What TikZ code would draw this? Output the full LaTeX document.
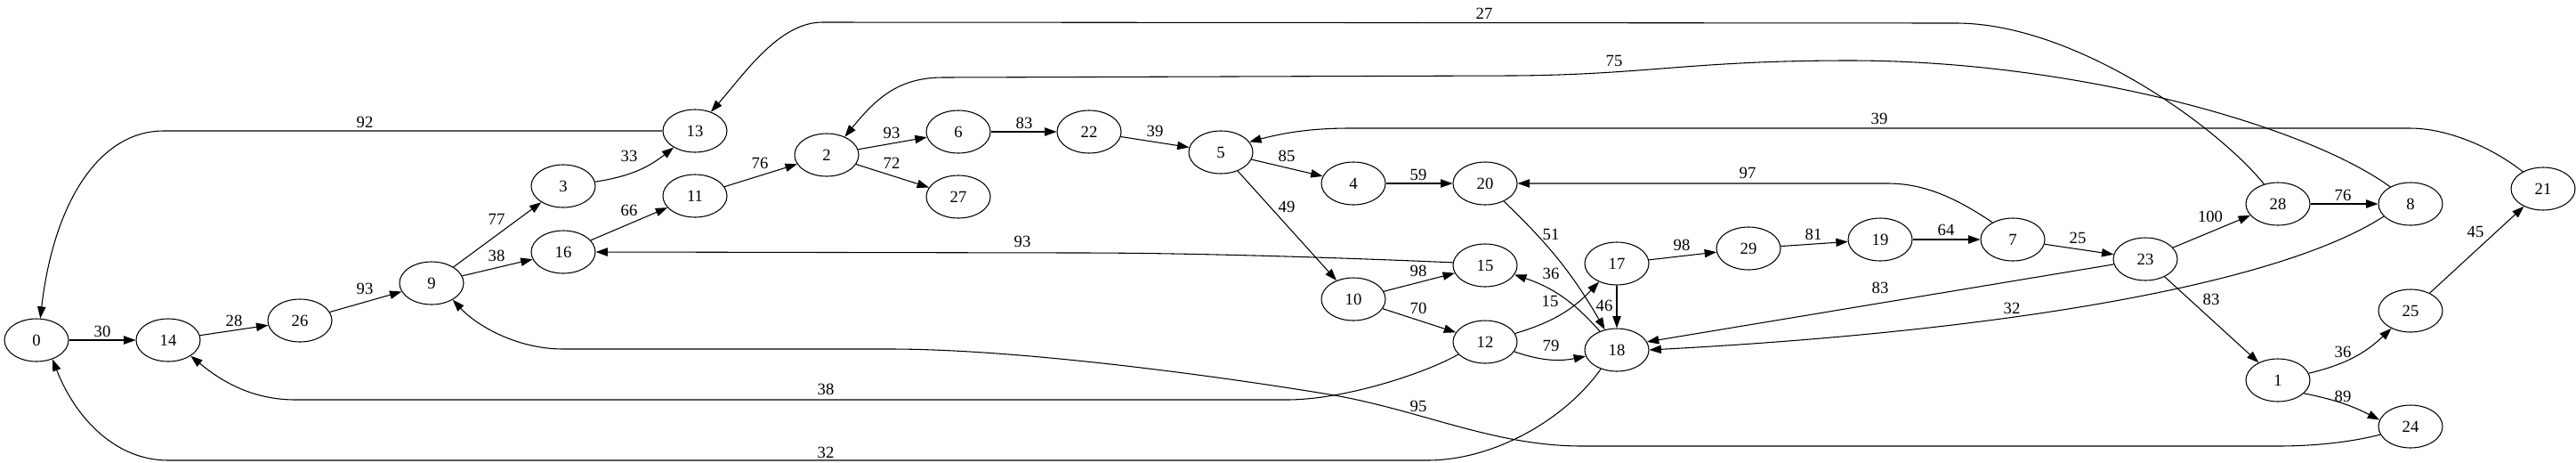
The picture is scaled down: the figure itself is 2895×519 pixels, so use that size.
\documentclass[tikz,border=0pt]{standalone}
\usepackage{fontspec}
\setmainfont{Liberation Serif}
\usetikzlibrary{arrows.meta,shapes.geometric}
\begin{document}
\begin{tikzpicture}[x=0.75pt,y=-0.75pt,
  vtx/.style={draw,ellipse,minimum width=54pt,minimum height=36pt,inner sep=0pt,line width=0.8pt,font=\fontsize{14}{16}\selectfont},
  lbl/.style={inner sep=0pt,font=\fontsize{14}{16}\selectfont},
  e/.style={line width=0.8pt,-{Triangle[length=10pt,width=7pt]}}]
\useasboundingbox (0,0) rectangle (2895,519);
% nodes
\node[vtx] (n0) at (41,382) {0};
\node[vtx] (n14) at (189,382) {14};
\node[vtx] (n26) at (337,360) {26};
\node[vtx] (n9) at (485,318) {9};
\node[vtx] (n3) at (633,209) {3};
\node[vtx] (n16) at (633,283) {16};
\node[vtx] (n13) at (781,147) {13};
\node[vtx] (n11) at (781,220) {11};
\node[vtx] (n2) at (929,174) {2};
\node[vtx] (n6) at (1077,148) {6};
\node[vtx] (n27) at (1077,221) {27};
\node[vtx] (n22) at (1224,148) {22};
\node[vtx] (n5) at (1372,171) {5};
\node[vtx] (n4) at (1521,206) {4};
\node[vtx] (n10) at (1521,336) {10};
\node[vtx] (n20) at (1669,206) {20};
\node[vtx] (n15) at (1669,298) {15};
\node[vtx] (n12) at (1669,384) {12};
\node[vtx] (n17) at (1817,296) {17};
\node[vtx] (n18) at (1817,393) {18};
\node[vtx] (n29) at (1965,279) {29};
\node[vtx] (n19) at (2113,269) {19};
\node[vtx] (n7) at (2262,269) {7};
\node[vtx] (n23) at (2411,291) {23};
\node[vtx] (n28) at (2560,229) {28};
\node[vtx] (n8) at (2709,229) {8};
\node[vtx] (n21) at (2858,212) {21};
\node[vtx] (n25) at (2709,349) {25};
\node[vtx] (n1) at (2560,427) {1};
\node[vtx] (n24) at (2709,479) {24};
% straight and bent edges
\draw[e] (n0) -- (n14);
\draw[e] (n14) -- (n26);
\draw[e] (n26) -- (n9);
\draw[e] (n9) -- (n3);
\draw[e] (n9) -- (n16);
\draw[e] (n3) to[bend right=15] (n13);
\draw[e] (n16) -- (n11);
\draw[e] (n11) -- (n2);
\draw[e] (n2) -- (n6);
\draw[e] (n2) -- (n27);
\draw[e] (n6) -- (n22);
\draw[e] (n22) -- (n5);
\draw[e] (n5) -- (n4);
\draw[e] (n5) -- (n10);
\draw[e] (n4) -- (n20);
\draw[e] (n10) -- (n15);
\draw[e] (n10) -- (n12);
\draw[e] (n12) to[bend right=15] (n17);
\draw[e] (n12) to[bend right=15] (n18);
\draw[e] (n17) -- (n18);
\draw[e] (n20) to[bend left=8] (n18);
\draw[e] (n18) to[bend right=15] (n15);
\draw[e] (n17) -- (n29);
\draw[e] (n29) -- (n19);
\draw[e] (n19) -- (n7);
\draw[e] (n7) -- (n23);
\draw[e] (n23) -- (n28);
\draw[e] (n28) -- (n8);
\draw[e] (n23) -- (n1);
\draw[e] (n23) -- (n18.15);
\draw[e] (n1) to[bend right=15] (n25);
\draw[e] (n1.333) to[bend left=8] (n24.168);
\draw[e] (n25) -- (n21);
% long curved edges
\draw[e] (n15.175) .. controls (1520,290) and (1350,284) .. (1210,284) -- (n16.east);
\draw[e] (n7.140) .. controls (2195,220) and (2160,206) .. (2121,206) -- (n20.east);
\draw[e] (n8.205) .. controls (2560,320) and (2250,372) .. (n18.east);
\draw[e] (n28.125) .. controls (2490,140) and (2330,26) .. (2198,26) -- (924,25) .. controls (875,25) and (835,85) .. (n13.50);
\draw[e] (n8.140) .. controls (2590,140) and (2330,68) .. (2079,68) .. controls (1900,68) and (1850,84) .. (1700,85) -- (1060,87) .. controls (1010,87) and (985,110) .. (n2.45);
\draw[e] (n21.140) .. controls (2800,165) and (2750,144) .. (2708,144) -- (1517,144) .. controls (1470,144) and (1440,150) .. (n5.20);
\draw[e] (n13.west) -- (184,147) .. controls (110,147) and (60,230) .. (n0.80);
\draw[e] (n18.230) .. controls (1760,470) and (1680,517) .. (1604,517) -- (189,517) .. controls (130,517) and (85,470) .. (n0.310);
\draw[e] (n12.205) .. controls (1600,420) and (1510,449) .. (1446,449) -- (332,449) .. controls (280,449) and (245,425) .. (n14.325);
\draw[e] (n24.195) .. controls (2640,497) and (2600,501) .. (2559,501) -- (1778,501) .. controls (1680,501) and (1600,462) .. (1500,444) .. controls (1380,424) and (1150,392) .. (1000,392) -- (633,392) .. controls (580,392) and (535,365) .. (n9.322);
% edge labels
\node[lbl] (l0-14) at (115,372) {30};
\node[lbl] (l14-26) at (263,360) {28};
\node[lbl] (l26-9) at (410,324) {93};
\node[lbl] (l9-3) at (558,246) {77};
\node[lbl] (l9-16) at (558,287) {38};
\node[lbl] (l3-13) at (707,175) {33};
\node[lbl] (l16-11) at (707,236) {66};
\node[lbl] (l13-0) at (410,137) {92};
\node[lbl] (l11-2) at (854,183) {76};
\node[lbl] (l2-6) at (1002,149) {93};
\node[lbl] (l2-27) at (1002,183) {72};
\node[lbl] (l6-22) at (1151,138) {83};
\node[lbl] (l22-5) at (1298,147) {39};
\node[lbl] (l28-13) at (1668,15) {27};
\node[lbl] (l8-2) at (1814,68) {75};
\node[lbl] (l21-5) at (2112,133) {39};
\node[lbl] (l5-4) at (1446,175) {85};
\node[lbl] (l5-10) at (1446,232) {49};
\node[lbl] (l4-20) at (1594,196) {59};
\node[lbl] (l10-15) at (1594,304) {98};
\node[lbl] (l10-12) at (1594,346) {70};
\node[lbl] (l15-16) at (1149,271) {93};
\node[lbl] (l7-20) at (1964,194) {97};
\node[lbl] (l20-18) at (1743,263) {51};
\node[lbl] (l18-15) at (1743,307) {36};
\node[lbl] (l12-17) at (1742,338) {15};
\node[lbl] (l17-18) at (1803,343) {46};
\node[lbl] (l12-18) at (1743,388) {79};
\node[lbl] (l17-29) at (1890,275) {98};
\node[lbl] (l29-19) at (2038,263) {81};
\node[lbl] (l19-7) at (2187,258) {64};
\node[lbl] (l7-23) at (2335,267) {25};
\node[lbl] (l23-18) at (2113,323) {83};
\node[lbl] (l8-18) at (2261,346) {32};
\node[lbl] (l23-28) at (2484,243) {100};
\node[lbl] (l28-8) at (2633,219) {76};
\node[lbl] (l23-1) at (2485,336) {83};
\node[lbl] (l1-25) at (2633,395) {36};
\node[lbl] (l1-24) at (2633,445) {89};
\node[lbl] (l25-21) at (2782,260) {45};
\node[lbl] (l12-14) at (928,437) {38};
\node[lbl] (l24-9) at (1594,456) {95};
\node[lbl] (l18-0) at (928,508) {32};
\end{tikzpicture}
\end{document}
